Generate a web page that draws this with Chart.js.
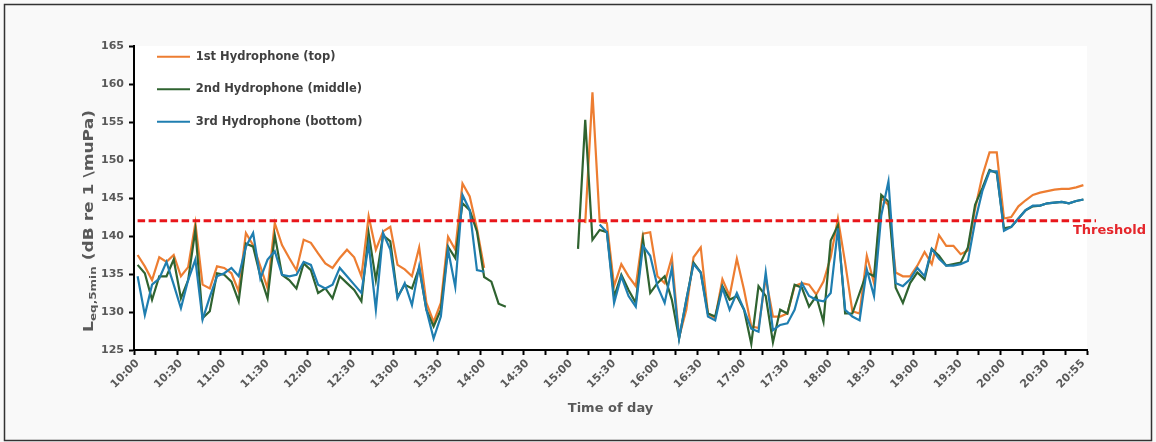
<!DOCTYPE html>
<html>
<head>
<meta charset="utf-8">
<script src="https://cdn.jsdelivr.net/npm/chart.js@4.4.1/dist/chart.umd.min.js"></script>
<style>
  html, body { margin: 0; padding: 0; background: #ffffff; }
  #wrap { width: 1156px; height: 442px; }
</style>
</head>
<body>
<div id="wrap"><canvas id="c" width="1156" height="442"></canvas></div>
<script>
const timeLabels = [
  "10:00","10:05","10:10","10:15","10:20","10:25","10:30","10:35","10:40","10:45","10:50","10:55",
  "11:00","11:05","11:10","11:15","11:20","11:25","11:30","11:35","11:40","11:45","11:50","11:55",
  "12:00","12:05","12:10","12:15","12:20","12:25","12:30","12:35","12:40","12:45","12:50","12:55",
  "13:00","13:05","13:10","13:15","13:20","13:25","13:30","13:35","13:40","13:45","13:50","13:55",
  "14:00","14:05","14:10","14:15","14:20","14:25","14:30","14:35","14:40","14:45","14:50","14:55",
  "15:00","15:05","15:10","15:15","15:20","15:25","15:30","15:35","15:40","15:45","15:50","15:55",
  "16:00","16:05","16:10","16:15","16:20","16:25","16:30","16:35","16:40","16:45","16:50","16:55",
  "17:00","17:05","17:10","17:15","17:20","17:25","17:30","17:35","17:40","17:45","17:50","17:55",
  "18:00","18:05","18:10","18:15","18:20","18:25","18:30","18:35","18:40","18:45","18:50","18:55",
  "19:00","19:05","19:10","19:15","19:20","19:25","19:30","19:35","19:40","19:45","19:50","19:55",
  "20:00","20:05","20:10","20:15","20:20","20:25","20:30","20:35","20:40","20:45","20:50","20:55"
];

const hydroTop = [
  137.5,136.0,134.2,137.2,136.6,137.5,134.7,135.9,141.7,133.6,133.1,136.0,
  135.8,135.1,132.7,140.4,138.8,136.0,133.1,141.7,138.8,137.1,135.5,139.5,
  139.1,137.7,136.4,135.8,137.1,138.2,137.2,134.7,142.6,138.2,140.6,141.2,
  136.2,135.6,134.7,138.5,131.2,128.7,131.2,139.9,138.2,146.9,145.2,141.0,
  135.8,null,null,null,null,null,null,null,null,null,null,null,
  null,null,141.7,158.9,141.9,141.7,133.4,136.3,134.7,133.4,140.3,140.5,
  134.7,133.8,137.2,126.7,130.3,137.2,138.5,129.8,129.2,134.3,132.1,137.0,
  132.9,128.1,127.9,134.5,129.4,129.4,129.8,133.4,133.8,133.6,132.3,134.0,
  137.2,142.3,136.5,130.1,129.8,137.4,133.8,145.0,144.1,135.2,134.7,134.7,
  136.1,137.9,136.3,140.1,138.7,138.7,137.6,138.1,143.6,147.9,151.0,151.0,
  142.3,142.5,143.9,144.7,145.4,145.7,145.9,146.1,146.2,146.2,146.4,146.7
];

const hydroMiddle = [
  136.2,135.1,131.6,134.7,134.7,136.9,131.8,134.2,140.8,129.2,130.1,135.1,
  134.9,134.0,131.4,139.0,138.6,134.7,131.8,140.1,134.9,134.2,133.1,136.4,
  135.5,132.5,133.1,131.8,134.7,133.8,132.9,131.4,140.4,134.2,140.1,139.3,
  132.0,133.6,133.1,135.8,130.3,128.1,130.3,138.6,137.1,144.3,143.4,140.6,
  134.6,134.0,131.1,130.7,null,null,null,null,null,null,null,null,
  null,138.3,155.3,139.5,140.8,140.5,132.0,134.9,132.9,131.2,139.6,132.5,
  133.8,134.7,131.6,126.5,131.6,136.5,135.2,129.8,129.4,133.4,131.6,132.1,
  130.3,125.8,133.4,132.1,126.0,130.3,129.8,133.6,133.2,130.7,132.1,128.7,
  139.4,141.4,129.8,129.8,132.5,135.2,134.7,145.4,144.5,133.2,131.2,133.8,
  135.2,134.3,138.3,137.4,136.1,136.3,136.5,138.5,144.1,146.3,148.7,148.3,
  141.0,141.2,142.3,143.4,143.9,144.0,144.3,144.4,144.5,144.3,144.6,144.8
];

const hydroBottom = [
  134.7,129.6,133.6,134.4,136.6,133.6,130.5,134.2,136.9,129.0,132.0,134.7,
  135.1,135.8,134.7,138.6,140.4,134.4,136.9,138.0,134.9,134.7,134.9,136.6,
  136.2,133.6,133.1,133.6,135.8,134.7,133.6,132.5,139.0,130.3,140.4,138.2,
  131.8,133.8,130.9,136.0,130.3,126.5,129.4,138.2,133.3,145.4,143.4,135.5,
  135.3,null,null,null,null,null,null,null,null,null,null,null,
  null,null,null,null,141.5,140.5,131.2,134.7,132.1,130.7,138.7,137.4,
  133.4,131.2,135.8,126.5,131.6,136.3,135.2,129.4,128.9,133.2,130.3,132.5,
  130.3,127.8,127.4,135.2,127.6,128.3,128.5,130.3,133.8,132.1,131.6,131.4,
  132.5,141.0,130.3,129.4,128.9,135.6,132.1,142.7,147.2,133.8,133.4,134.3,
  135.8,134.7,138.3,137.0,136.1,136.1,136.3,136.7,141.9,145.9,148.5,148.5,
  140.7,141.2,142.3,143.4,144.0,144.0,144.3,144.4,144.5,144.3,144.6,144.8
];

const seriesNames = ["1st Hydrophone (top)", "2nd Hydrophone (middle)", "3rd Hydrophone (bottom)"];
const seriesColors = ["#ED7D31", "#2F6330", "#1F7EB0"];
const yTicks = [125, 130, 135, 140, 145, 150, 155, 160, 165];
const THRESHOLD = 142;

const FONT = "'DejaVu Sans', 'Liberation Sans', Arial, sans-serif";

const framePlugin = {
  id: 'frame',
  beforeDraw(chart) {
    const ctx = chart.ctx, a = chart.chartArea;
    ctx.save();
    ctx.fillStyle = '#f9f9f9';
    ctx.fillRect(0, 0, chart.width, chart.height);
    ctx.strokeStyle = '#333333';
    ctx.lineWidth = 1.5;
    ctx.strokeRect(4.5, 4.5, chart.width - 9, chart.height - 6);
    ctx.fillStyle = '#ffffff';
    ctx.fillRect(a.left, a.top, a.right - a.left, a.bottom - a.top);
    ctx.restore();
  }
};

const legendPlace = {
  id: 'legendPlace',
  afterLayout(chart) {
    const lg = chart.legend;
    if (!lg) return;
    const p = lg.options.labels.padding;
    const dx = 157 - p - lg.left;
    const dy = 51 - p - lg.top;
    lg.left += dx; lg.right += dx;
    lg.top += dy; lg.bottom += dy;
  }
};

const thresholdPlugin = {
  id: 'threshold',
  afterDatasetsDraw(chart) {
    const ctx = chart.ctx, xs = chart.scales.x, ys = chart.scales.y;
    const y = ys.getPixelForValue(THRESHOLD);
    const x0 = xs.getPixelForValue(0);
    const x1 = chart.chartArea.right + 9;
    ctx.save();
    ctx.strokeStyle = '#E8161B';
    ctx.lineWidth = 3;
    ctx.setLineDash([7.5, 3.5]);
    ctx.beginPath();
    ctx.moveTo(x0, y);
    ctx.lineTo(x1, y);
    ctx.stroke();
    ctx.setLineDash([]);
    ctx.fillStyle = '#E5262B';
    ctx.font = "bold 13px " + FONT;
    ctx.textBaseline = 'middle';
    ctx.textAlign = 'left';
    ctx.fillText('Threshold', 1073, y + 10);
    ctx.restore();
  }
};

const yTitlePlugin = {
  id: 'yTitle',
  afterDraw(chart) {
    const ctx = chart.ctx;
    ctx.save();
    ctx.translate(88, 221);
    ctx.rotate(-Math.PI / 2);
    ctx.fillStyle = '#595959';
    ctx.textBaseline = 'alphabetic';
    const big = "bold 13.5px " + FONT, small = "bold 9.5px " + FONT;
    const p1 = 'L', p2 = 'eq,5min', p3 = ' (dB re 1 \\muPa)';
    ctx.font = big; const w1 = ctx.measureText(p1).width, w3 = ctx.measureText(p3).width;
    ctx.font = small; const w2 = ctx.measureText(p2).width;
    const total = w1 + w2 + w3;
    const sx = 222 / total;
    ctx.scale(sx, 1);
    let x = -total / 2;
    const base = 5;
    ctx.font = big; ctx.fillText(p1, x, base); x += w1;
    ctx.font = small; ctx.fillText(p2, x, base + 2.5); x += w2;
    ctx.font = big; ctx.fillText(p3, x, base);
    ctx.restore();
  }
};

const datasets = [hydroTop, hydroMiddle, hydroBottom].map((d, i) => ({
  label: seriesNames[i],
  data: d,
  borderColor: seriesColors[i],
  backgroundColor: seriesColors[i],
  borderWidth: 2.2,
  pointRadius: 0,
  pointHoverRadius: 0,
  tension: 0,
  spanGaps: false,
  order: 3 - i
}));

new Chart(document.getElementById('c'), {
  type: 'line',
  data: { labels: timeLabels, datasets },
  options: {
    responsive: false,
    animation: false,
    devicePixelRatio: 1,
    layout: { padding: { left: 0, top: 46, right: 69, bottom: 0 } },
    plugins: {
      tooltip: { enabled: false },
      legend: {
        position: 'chartArea',
        align: 'start',
        labels: {
          usePointStyle: true,
          pointStyle: 'line',
          pointStyleWidth: 33,
          padding: 21,
          color: '#404040',
          font: { family: FONT, size: 11.5, weight: 'bold' },
          sort: (a, b) => a.datasetIndex - b.datasetIndex
        }
      }
    },
    scales: {
      x: {
        type: 'category',
        offset: true,
        afterFit: (s) => { s.height = 92; },
        grid: {
          offset: true,
          drawOnChartArea: false,
          drawTicks: true,
          tickLength: 5,
          tickWidth: 2,
          tickColor: (c) => (c.index === undefined || c.index % 3 === 0) ? '#000000' : 'rgba(0,0,0,0)'
        },
        border: { display: true, color: '#000000', width: 2 },
        ticks: {
          autoSkip: false,
          maxRotation: 45,
          minRotation: 45,
          padding: 2,
          color: '#595959',
          font: { family: FONT, size: 11, weight: 'bold' },
          callback: function (v, i) {
            return (i % 6 === 0 || i === timeLabels.length - 1) ? timeLabels[i] : '';
          }
        },
        title: {
          display: true,
          text: 'Time of day',
          color: '#595959',
          font: { family: FONT, size: 13, weight: 'bold' },
          padding: { top: 0, bottom: 26 }
        }
      },
      y: {
        type: 'linear',
        min: yTicks[0],
        max: yTicks[yTicks.length - 1],
        afterFit: (s) => { s.width = 134; },
        afterBuildTicks: (s) => { s.ticks = yTicks.map(v => ({ value: v })); },
        grid: {
          drawOnChartArea: false,
          drawTicks: true,
          tickLength: 5,
          tickWidth: 2,
          tickColor: '#000000'
        },
        border: { display: true, color: '#000000', width: 2 },
        ticks: {
          padding: 5,
          color: '#595959',
          font: { family: FONT, size: 11, weight: 'bold' }
        }
      }
    }
  },
  plugins: [framePlugin, legendPlace, thresholdPlugin, yTitlePlugin]
});
</script>
</body>
</html>
